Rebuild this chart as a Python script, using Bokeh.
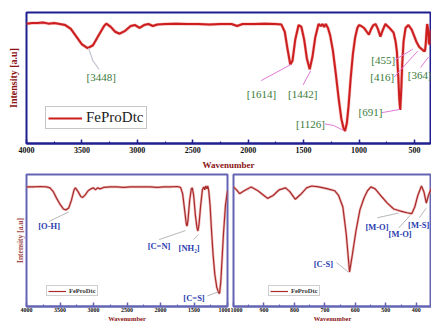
from bokeh.plotting import figure
from bokeh.layouts import column, row
from bokeh.models import Range1d, SingleIntervalTicker, FixedTicker
from bokeh.embed import file_html
from bokeh.resources import INLINE

# ---------------- data ----------------
top_wavenumber = [4000, 3950, 3900, 3850, 3800, 3750, 3700, 3650, 3600, 3550, 3500, 3448, 3400, 3350,
                  3300, 3280, 3240, 3200, 3160, 3110, 3060, 3020, 2980, 2940, 2900, 2860, 2820, 2750,
                  2650, 2550, 2450, 2350, 2250, 2150, 2100, 2050, 1950, 1850, 1750, 1700, 1670, 1645,
                  1620, 1600, 1575, 1545, 1520, 1495, 1470, 1445, 1420, 1395, 1365, 1345, 1330, 1315,
                  1300, 1280, 1260, 1235, 1210, 1185, 1160, 1140, 1126, 1110, 1095, 1075, 1055, 1035,
                  1015, 1000, 980, 955, 930, 911, 890, 870, 851, 830, 807, 785, 762, 735, 710, 688,
                  670, 658, 645, 636, 628, 620, 610, 598, 580, 554, 524, 500, 480, 455, 435, 415,
                  405, 398, 390, 385, 378, 370, 362, 355]
top_intensity = [91.5, 91.9, 91.9, 92.3, 91.5, 91.9, 91.2, 90.4, 87.5, 81.6, 75.7, 72.8, 75.0, 82.4,
                 89.7, 91.5, 89.0, 85.3, 83.8, 86.0, 89.7, 90.4, 88.2, 90.4, 91.2, 89.7, 90.8, 91.2,
                 91.5, 91.2, 91.2, 90.8, 91.2, 91.2, 89.7, 91.2, 91.2, 91.5, 91.2, 90.8, 85.3, 72.1,
                 60.3, 63.2, 79.4, 90.4, 89.0, 79.4, 64.7, 56.6, 66.2, 80.9, 91.2, 89.7, 91.2, 89.0,
                 91.2, 88.2, 82.4, 70.6, 53.7, 35.3, 19.1, 11.8, 9.6, 15.4, 27.9, 50.0, 68.4, 80.9,
                 88.2, 90.4, 89.7, 88.2, 85.3, 83.1, 87.5, 90.4, 91.2, 87.5, 81.6, 86.8, 91.2, 89.0,
                 86.8, 84.6, 77.9, 69.9, 50.0, 33.1, 25.7, 39.0, 61.0, 77.9, 88.2, 90.4, 86.8, 81.6,
                 77.2, 73.5, 72.1, 70.6, 70.6, 75.7, 86.8, 91.2, 88.2, 77.0, 75.5, 86.8]

left_wavenumber = [4000, 3900, 3800, 3700, 3650, 3600, 3550, 3500, 3450, 3412, 3370, 3330, 3290, 3270,
                   3230, 3190, 3160, 3120, 3080, 3040, 3000, 2970, 2940, 2900, 2850, 2750, 2650, 2550,
                   2450, 2350, 2250, 2150, 2050, 1950, 1850, 1750, 1700, 1670, 1640, 1615, 1603, 1590,
                   1565, 1540, 1525, 1505, 1480, 1455, 1441, 1425, 1400, 1375, 1355, 1340, 1325, 1310,
                   1295, 1280, 1260, 1240, 1215, 1190, 1160, 1130, 1118, 1100, 1080, 1060, 1030, 1000]
left_intensity = [90.6, 90.6, 90.9, 90.6, 89.9, 87.0, 81.9, 77.5, 73.9, 73.2, 74.6, 80.4, 88.4, 89.9,
                  87.0, 83.3, 82.6, 84.8, 87.7, 89.1, 89.9, 88.4, 89.9, 89.1, 90.2, 90.6, 90.6, 90.2,
                  90.6, 90.6, 90.6, 90.6, 90.2, 90.6, 90.6, 90.9, 90.2, 85.5, 73.2, 62.3, 60.9, 65.2,
                  80.4, 89.1, 89.9, 84.1, 69.6, 59.4, 57.2, 62.3, 76.8, 88.4, 90.6, 88.4, 91.3, 89.1,
                  91.3, 87.7, 76.8, 58.7, 39.1, 24.6, 14.5, 10.1, 10.1, 18.8, 37.0, 55.1, 76.8, 87.7]

right_wavenumber = [1000, 990, 980, 965, 942, 920, 900, 888, 870, 850, 829, 815, 797, 780, 760, 743,
                    720, 690, 668, 655, 641, 630, 619, 610, 598, 585, 571, 560, 549, 535, 517, 495,
                    474, 455, 442, 430, 415, 405, 395, 383, 375, 367, 360, 350]
right_intensity = [90.6, 88.4, 85.5, 87.7, 90.6, 87.7, 84.1, 81.9, 84.1, 88.4, 89.9, 87.0, 81.2, 84.8,
                   89.9, 91.3, 90.6, 89.1, 87.7, 84.1, 75.4, 55.1, 26.1, 39.1, 57.2, 73.2, 82.6, 87.7,
                   90.6, 89.1, 84.1, 78.3, 73.9, 72.5, 71.7, 71.0, 70.3, 75.4, 84.1, 91.3, 87.0, 78.3,
                   84.1, 89.9]

series_name = "FeProDtc"
x_title = "Wavenumber"
y_title = "Intensity [a.u]"

top_labels = ["[3448]", "[1614]", "[1442]", "[1126]", "[691]", "[455]", "[416]", "[364]"]
top_label_x = [3326, 1880, 1508, 1437, 896, 781, 790, 453]
top_label_y = [50.7, 37.5, 37.5, 14.7, 24.3, 64.0, 50.7, 52.2]
top_leader_x = [[3441, 3400, 3344], [1883, 1614], [1505, 1437], [1307, 1230, 1140], [796, 633],
                [672, 515], [683, 470], [444, 373]]
top_leader_y = [[72.8, 63.0, 56.5], [48.0, 60.3], [44.6, 55.4], [14.9, 13.8, 10.0], [23.5, 26.0],
                [64.0, 72.0], [50.7, 70.6], [58.0, 66.0]]

left_labels = ["[O-H]", "[C=N]", "[NH\u2082]", "[C=S]"]
left_label_x = [3662, 2022, 1574, 1500]
left_label_y = [60.9, 45.9, 44.2, 6.3]
left_leader_x = [[3662, 3368], [2020, 1628], [1504, 1431], [1299, 1137]]
left_leader_y = [[64.5, 71.7], [50.7, 57.5], [50.7, 54.6], [8.0, 11.1]]

right_labels = ["[C-S]", "[M-O]", "[M-O]", "[M-S]"]
right_label_x = [705, 529, 453, 392]
right_label_y = [31.9, 60.4, 54.6, 61.8]
right_leader_x = [[662, 623], [528, 458], [458, 420], [390, 368]]
right_leader_y = [[33.3, 26.1], [67.2, 70.8], [59.4, 69.0], [67.2, 74.4]]

# ---------------- styles ----------------
SERIF = "Liberation Serif"
SANS = "Liberation Sans"
TITLE_RED = "#8b1414"


def base_fig(width, height, xr, borders, frame_color, interval, has_y, tick_size):
    left, right, top, bottom = borders
    p = figure(width=width, height=height, x_range=Range1d(*xr), y_range=Range1d(0, 100),
               output_backend="svg", toolbar_location=None, title=None,
               y_axis_location="left" if has_y else None,
               min_border_left=left, min_border_right=right, min_border_top=top,
               min_border_bottom=bottom, background_fill_color="white",
               border_fill_color="white")
    p.grid.visible = False
    p.outline_line_color = frame_color
    p.outline_line_width = 2
    p.outline_line_alpha = 1
    ax = p.xaxis[0]
    ax.ticker = SingleIntervalTicker(interval=interval, num_minor_ticks=2)
    ax.axis_line_color = frame_color
    ax.axis_line_width = 2
    ax.major_tick_line_color = frame_color
    ax.minor_tick_line_color = frame_color
    ax.major_tick_line_width = 1.5
    ax.minor_tick_line_width = 1.2
    ax.major_tick_in = 4
    ax.major_tick_out = 0
    ax.minor_tick_in = 2
    ax.minor_tick_out = 0
    ax.major_label_text_font = SERIF
    ax.major_label_text_font_style = "bold"
    ax.major_label_text_font_size = tick_size
    ax.major_label_text_color = "#111111"
    ax.major_label_standoff = 3
    ax.axis_label = x_title
    ax.axis_label_text_font = SERIF
    ax.axis_label_text_font_style = "bold"
    ax.axis_label_text_color = TITLE_RED
    if has_y:
        ay = p.yaxis[0]
        ay.ticker = FixedTicker(ticks=[])
        ay.axis_line_color = None
        ay.major_tick_line_color = None
        ay.minor_tick_line_color = None
    return p


# ---------------- top panel ----------------
top = base_fig(431, 172, (4000, 355), (26, 1, 12, 28), "#1f1f8f", 500, True, "8px")
top.xaxis[0].axis_label_text_font_size = "9px"
top.xaxis[0].axis_label_standoff = 4
top.yaxis[0].axis_label = y_title
top.yaxis[0].axis_label_text_font = SERIF
top.yaxis[0].axis_label_text_font_style = "bold"
top.yaxis[0].axis_label_text_font_size = "10px"
top.yaxis[0].axis_label_text_color = TITLE_RED
top.yaxis[0].axis_label_standoff = 8
top.line(top_wavenumber, top_intensity, line_color="#e86a6a", line_width=3.2, line_alpha=0.45)
top.line(top_wavenumber, top_intensity, line_color="#cc1e1e", line_width=2, legend_label=series_name)
top.multi_line(top_leader_x[:1], top_leader_y[:1], line_color="#c4c4d4", line_width=1.2)
top.multi_line(top_leader_x[1:], top_leader_y[1:], line_color="#e27ad8", line_width=1)
top.text(top_label_x, top_label_y, text=top_labels, text_align="center", text_baseline="middle",
         text_font=SERIF, text_font_size="11px", text_color="#3a7a3a")
lg = top.legend[0]
lg.location = (19, 14)
lg.margin = 0
lg.padding = 2
lg.spacing = 0
lg.glyph_width = 34
lg.glyph_height = 14
lg.label_height = 14
lg.label_standoff = 4
lg.label_text_font = SERIF
lg.label_text_font_size = "15px"
lg.label_text_color = "#222222"
lg.border_line_color = "#8c8c8c"
lg.border_line_width = 1
lg.background_fill_alpha = 1

# ---------------- bottom panels ----------------
BOT_FRAME = "#6464b4"
CURVE = "#a82a2a"
GLOW = "#e39090"
BLUE_LABEL = "#2a3cb0"
LEADER = "#b8b8b8"


def style_small_legend(p, loc):
    lg = p.legend[0]
    lg.location = loc
    lg.margin = 0
    lg.padding = 1
    lg.spacing = 0
    lg.glyph_width = 18
    lg.glyph_height = 6
    lg.label_height = 6
    lg.label_standoff = 3
    lg.label_text_font = SERIF
    lg.label_text_font_style = "bold"
    lg.label_text_font_size = "6.5px"
    lg.label_text_color = "#333333"
    lg.border_line_color = "#a0a0a0"
    lg.border_line_width = 1


def style_bottom_axis(p):
    ax = p.xaxis[0]
    ax.major_label_standoff = 1
    ax.axis_label_text_font_size = "6.5px"
    ax.axis_label_standoff = 0


left = base_fig(230, 152, (4000, 1000), (26, 3, 2, 15), BOT_FRAME, 500, True, "6px")
style_bottom_axis(left)
left.yaxis[0].axis_label = y_title
left.yaxis[0].axis_label_text_font = SERIF
left.yaxis[0].axis_label_text_font_style = "bold"
left.yaxis[0].axis_label_text_font_size = "7.5px"
left.yaxis[0].axis_label_text_color = "#a24848"
left.yaxis[0].axis_label_standoff = 2
left.line(left_wavenumber, left_intensity, line_color=GLOW, line_width=2.6, line_alpha=0.6)
left.line(left_wavenumber, left_intensity, line_color=CURVE, line_width=1.2, legend_label=series_name)
left.multi_line(left_leader_x, left_leader_y, line_color=LEADER, line_width=1)
left.text(left_label_x, left_label_y, text=left_labels, text_align="center", text_baseline="middle",
          text_font=SANS, text_font_style="bold", text_font_size="8.5px", text_color=BLUE_LABEL)
style_small_legend(left, (20, 10))

right = base_fig(201, 152, (1000, 350), (3, 0, 2, 15), BOT_FRAME, 100, False, "6px")
style_bottom_axis(right)
right.line(right_wavenumber, right_intensity, line_color=GLOW, line_width=2.6, line_alpha=0.6)
right.line(right_wavenumber, right_intensity, line_color=CURVE, line_width=1.2, legend_label=series_name)
right.multi_line(right_leader_x, right_leader_y, line_color=LEADER, line_width=1)
right.text(right_label_x, right_label_y, text=right_labels, text_align="center", text_baseline="middle",
           text_font=SANS, text_font_style="bold", text_font_size="8.5px", text_color=BLUE_LABEL)
style_small_legend(right, (35, 10))

layout = column(top, row(left, right, spacing=0), spacing=0)
open("out.html", "w").write(file_html(layout, INLINE))
